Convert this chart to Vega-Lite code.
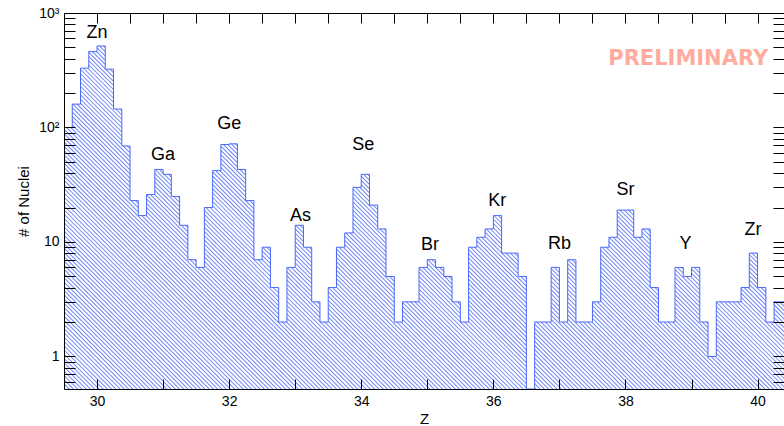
{
  "$schema": "https://vega.github.io/schema/vega-lite/v6.json",
  "autosize": "none",
  "width": 720,
  "height": 376,
  "padding": {"left": 64, "top": 13, "right": 0, "bottom": 37},
  "background": "white",
  "config": {"view": {"stroke": null}, "font": "Liberation Sans"},
  "datasets": {
    "hist": [
      {"Z": 29.5, "n": 100}, {"Z": 29.625, "n": 160}, {"Z": 29.75, "n": 330}, {"Z": 29.875, "n": 460},
      {"Z": 30.0, "n": 515}, {"Z": 30.125, "n": 323}, {"Z": 30.25, "n": 145}, {"Z": 30.375, "n": 69},
      {"Z": 30.5, "n": 23}, {"Z": 30.625, "n": 17}, {"Z": 30.75, "n": 26}, {"Z": 30.875, "n": 43},
      {"Z": 31.0, "n": 39}, {"Z": 31.125, "n": 25}, {"Z": 31.25, "n": 14}, {"Z": 31.375, "n": 7},
      {"Z": 31.5, "n": 6}, {"Z": 31.625, "n": 20}, {"Z": 31.75, "n": 42}, {"Z": 31.875, "n": 71},
      {"Z": 32.0, "n": 72}, {"Z": 32.125, "n": 43}, {"Z": 32.25, "n": 23}, {"Z": 32.375, "n": 7},
      {"Z": 32.5, "n": 9}, {"Z": 32.625, "n": 4}, {"Z": 32.75, "n": 2}, {"Z": 32.875, "n": 6},
      {"Z": 33.0, "n": 14}, {"Z": 33.125, "n": 9}, {"Z": 33.25, "n": 3}, {"Z": 33.375, "n": 2},
      {"Z": 33.5, "n": 4}, {"Z": 33.625, "n": 9}, {"Z": 33.75, "n": 12}, {"Z": 33.875, "n": 30},
      {"Z": 34.0, "n": 39}, {"Z": 34.125, "n": 21}, {"Z": 34.25, "n": 13}, {"Z": 34.375, "n": 5},
      {"Z": 34.5, "n": 2}, {"Z": 34.625, "n": 3}, {"Z": 34.75, "n": 3}, {"Z": 34.875, "n": 6},
      {"Z": 35.0, "n": 7}, {"Z": 35.125, "n": 6}, {"Z": 35.25, "n": 5}, {"Z": 35.375, "n": 3},
      {"Z": 35.5, "n": 2}, {"Z": 35.625, "n": 9}, {"Z": 35.75, "n": 11}, {"Z": 35.875, "n": 13},
      {"Z": 36.0, "n": 17}, {"Z": 36.125, "n": 8}, {"Z": 36.25, "n": 8}, {"Z": 36.375, "n": 5},
      {"Z": 36.5, "n": 0}, {"Z": 36.625, "n": 2}, {"Z": 36.75, "n": 2}, {"Z": 36.875, "n": 6},
      {"Z": 37.0, "n": 2}, {"Z": 37.125, "n": 7}, {"Z": 37.25, "n": 2}, {"Z": 37.375, "n": 2},
      {"Z": 37.5, "n": 3}, {"Z": 37.625, "n": 9}, {"Z": 37.75, "n": 11}, {"Z": 37.875, "n": 19},
      {"Z": 38.0, "n": 19}, {"Z": 38.125, "n": 11}, {"Z": 38.25, "n": 13}, {"Z": 38.375, "n": 4},
      {"Z": 38.5, "n": 2}, {"Z": 38.625, "n": 2}, {"Z": 38.75, "n": 6}, {"Z": 38.875, "n": 5},
      {"Z": 39.0, "n": 6}, {"Z": 39.125, "n": 2}, {"Z": 39.25, "n": 1}, {"Z": 39.375, "n": 3},
      {"Z": 39.5, "n": 3}, {"Z": 39.625, "n": 3}, {"Z": 39.75, "n": 4}, {"Z": 39.875, "n": 8},
      {"Z": 40.0, "n": 4}, {"Z": 40.125, "n": 2}, {"Z": 40.25, "n": 3}, {"Z": 40.375, "n": 3},
      {"Z": 40.5, "n": 3}
    ],
    "labels": [
      {"Z": 30.0, "n": 670, "el": "Zn"}, {"Z": 31.0, "n": 57, "el": "Ga"}, {"Z": 32.0, "n": 108, "el": "Ge"},
      {"Z": 33.08, "n": 17, "el": "As"}, {"Z": 34.03, "n": 70, "el": "Se"}, {"Z": 35.04, "n": 9.5, "el": "Br"},
      {"Z": 36.06, "n": 23, "el": "Kr"}, {"Z": 37.0, "n": 9.6, "el": "Rb"}, {"Z": 38.0, "n": 28.7, "el": "Sr"},
      {"Z": 38.91, "n": 9.6, "el": "Y"}, {"Z": 39.93, "n": 12.7, "el": "Zr"}
    ],
    "stamp": [{"Z": 38.95, "n": 396, "t": "PRELIMINARY"}]
  },
  "resolve": {"scale": {"y": "independent"}, "axis": {"x": "independent", "y": "independent"}},
  "layer": [
    {
      "data": {"values": [{}]},
      "mark": {"type": "rule", "clip": true, "strokeWidth": 800, "strokeDash": [1, 2], "color": "#7088f4"},
      "encoding": {
        "x": {"datum": 28.138, "type": "quantitative", "scale": {"domain": [29.5, 40.4], "nice": false, "zero": false}, "axis": null},
        "x2": {"datum": 41.762},
        "y": {"datum": 0.00268, "type": "quantitative", "scale": {"type": "log", "domain": [0.52, 1000], "nice": false, "clamp": false}, "axis": null},
        "y2": {"datum": 194000}
      }
    },
    {
      "data": {"name": "hist"},
      "mark": {"type": "area", "interpolate": "step-after", "clip": true, "fill": "white", "stroke": null},
      "encoding": {
        "x": {"field": "Z", "type": "quantitative", "scale": {"domain": [29.5, 40.4], "nice": false, "zero": false},
          "axis": {"orient": "top", "values": [30, 30.5, 31, 31.5, 32, 32.5, 33, 33.5, 34, 34.5, 35, 35.5, 36, 36.5, 37, 37.5, 38, 38.5, 39, 39.5, 40],
            "labels": false, "ticks": true, "tickSize": -10, "grid": false, "title": null, "domainColor": "black", "tickColor": "black", "zindex": 1}},
        "y": {"field": "n", "type": "quantitative", "scale": {"type": "log", "domain": [0.52, 1000], "nice": false, "clamp": true},
          "axis": {"orient": "right", "values": [0.6, 0.7, 0.8, 0.9, 1, 2, 3, 4, 5, 6, 7, 8, 9, 10, 20, 30, 40, 50, 60, 70, 80, 90, 100, 200, 300, 400, 500, 600, 700, 800, 900, 1000],
            "labels": false, "ticks": true, "tickSize": -11, "grid": false, "title": null, "domainColor": "black", "tickColor": "black", "zindex": 1,
            "encode": {"ticks": {"update": {"x2": {"signal": "(datum.value==1||datum.value==10||datum.value==100||datum.value==1000) ? -22 : -11"}}}}}},
        "y2": {"datum": 1000}
      }
    },
    {
      "data": {"name": "hist"},
      "mark": {"type": "line", "interpolate": "step-after", "clip": true, "color": "#4a68f8", "strokeWidth": 1},
      "encoding": {
        "x": {"field": "Z", "type": "quantitative", "scale": {"domain": [29.5, 40.4], "nice": false, "zero": false},
          "axis": {"orient": "bottom", "values": [30, 30.5, 31, 31.5, 32, 32.5, 33, 33.5, 34, 34.5, 35, 35.5, 36, 36.5, 37, 37.5, 38, 38.5, 39, 39.5, 40],
            "format": "d", "labelExpr": "datum.value % 2 == 0 ? datum.label : ''", "labelOverlap": false, "labelFlush": false,
            "labelFont": "Liberation Sans", "labelFontSize": 14, "labelColor": "black", "labelPadding": 15,
            "ticks": true, "tickSize": -10, "grid": false, "domainColor": "black", "tickColor": "black", "zindex": 1,
            "title": "Z", "titleFont": "Liberation Sans", "titleFontSize": 15, "titleFontWeight": "normal", "titleColor": "black",
            "titleX": 360, "titleY": 34, "titleBaseline": "alphabetic"}},
        "y": {"field": "n", "type": "quantitative", "scale": {"type": "log", "domain": [0.52, 1000], "nice": false, "clamp": true},
          "axis": {"orient": "left", "values": [0.6, 0.7, 0.8, 0.9, 1, 2, 3, 4, 5, 6, 7, 8, 9, 10, 20, 30, 40, 50, 60, 70, 80, 90, 100, 200, 300, 400, 500, 600, 700, 800, 900, 1000],
            "labelExpr": "datum.value == 1 ? '1' : datum.value == 10 ? '10' : datum.value == 100 ? '10²' : datum.value == 1000 ? '10³' : ''",
            "labelOverlap": false, "labelFlush": false, "labelFont": "Liberation Sans", "labelFontSize": 14, "labelColor": "black", "labelPadding": 16,
            "ticks": true, "tickSize": -11, "grid": false, "domainColor": "black", "tickColor": "black", "zindex": 1,
            "title": "# of Nuclei", "titleFont": "Liberation Sans", "titleFontSize": 15, "titleFontWeight": "normal", "titleColor": "black",
            "titleX": -33, "titleY": 188,
            "encode": {"ticks": {"update": {"x2": {"signal": "(datum.value==1||datum.value==10||datum.value==100||datum.value==1000) ? 22 : 11"}}}}}}
      }
    },
    {
      "data": {"name": "labels"},
      "mark": {"type": "text", "font": "Liberation Sans", "fontSize": 18, "color": "black", "align": "center", "baseline": "middle"},
      "encoding": {
        "x": {"field": "Z", "type": "quantitative", "scale": {"domain": [29.5, 40.4], "nice": false, "zero": false}, "axis": null},
        "y": {"field": "n", "type": "quantitative", "scale": {"type": "log", "domain": [0.52, 1000], "nice": false}, "axis": null},
        "text": {"field": "el"}
      }
    },
    {
      "data": {"name": "stamp"},
      "mark": {"type": "text", "font": "DejaVu Sans", "fontWeight": "bold", "fontSize": 21, "color": "#ffab9e", "align": "center", "baseline": "middle"},
      "encoding": {
        "x": {"field": "Z", "type": "quantitative", "scale": {"domain": [29.5, 40.4], "nice": false, "zero": false}, "axis": null},
        "y": {"field": "n", "type": "quantitative", "scale": {"type": "log", "domain": [0.52, 1000], "nice": false}, "axis": null},
        "text": {"field": "t"}
      }
    }
  ]
}
